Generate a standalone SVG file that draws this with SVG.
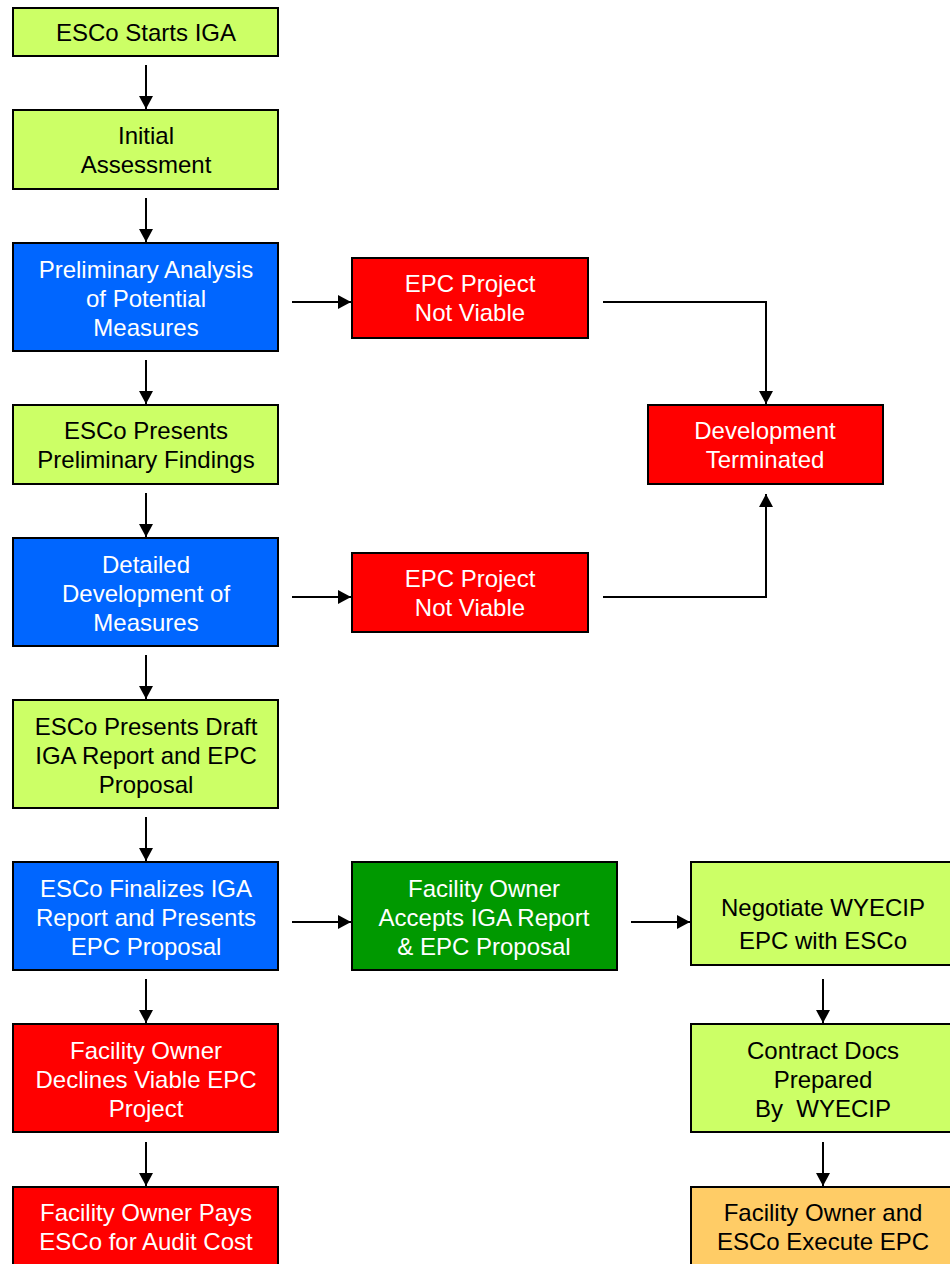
<svg xmlns="http://www.w3.org/2000/svg" width="950" height="1264" viewBox="0 0 950 1264">
<defs>
<style>
rect{stroke:#000;stroke-width:2}
.lg{fill:#CCFF66}
.bl{fill:#0066FF}
.rd{fill:#FF0000}
.gr{fill:#009900}
.or{fill:#FFCC66}
text{font-family:"Liberation Sans",Arial,sans-serif;font-size:24px;text-anchor:middle;white-space:pre}
.k{fill:#000}
.w{fill:#fff}
.c{fill:none;stroke:#000;stroke-width:2}
</style>
<marker id="ah" markerWidth="13" markerHeight="14" viewBox="0 0 13 14" refX="13" refY="7" orient="auto" markerUnits="userSpaceOnUse">
<path d="M0,0 L13,7 L0,14 Z" fill="#000"/>
</marker>
</defs>
<rect x="0" y="0" width="950" height="1264" fill="#fff" style="stroke:none"/>
<g id="connectors">
<line class="c" x1="146" y1="65" x2="146" y2="109" marker-end="url(#ah)"/>
<line class="c" x1="146" y1="198" x2="146" y2="242" marker-end="url(#ah)"/>
<line class="c" x1="146" y1="360" x2="146" y2="404" marker-end="url(#ah)"/>
<line class="c" x1="146" y1="493" x2="146" y2="537" marker-end="url(#ah)"/>
<line class="c" x1="146" y1="655" x2="146" y2="699" marker-end="url(#ah)"/>
<line class="c" x1="146" y1="817" x2="146" y2="861" marker-end="url(#ah)"/>
<line class="c" x1="146" y1="979" x2="146" y2="1023" marker-end="url(#ah)"/>
<line class="c" x1="146" y1="1142" x2="146" y2="1186" marker-end="url(#ah)"/>
<line class="c" x1="292" y1="302" x2="351" y2="302" marker-end="url(#ah)"/>
<line class="c" x1="292" y1="597" x2="351" y2="597" marker-end="url(#ah)"/>
<polyline class="c" points="603,302 766,302 766,404" marker-end="url(#ah)"/>
<polyline class="c" points="603,597 766,597 766,494" marker-end="url(#ah)"/>
<line class="c" x1="292" y1="922" x2="351" y2="922" marker-end="url(#ah)"/>
<line class="c" x1="631" y1="922" x2="690" y2="922" marker-end="url(#ah)"/>
<line class="c" x1="823" y1="979" x2="823" y2="1023" marker-end="url(#ah)"/>
<line class="c" x1="823" y1="1142" x2="823" y2="1186" marker-end="url(#ah)"/>
</g>
<g id="n1"><rect class="lg" x="13" y="8" width="265" height="48"/><text class="k" x="146" y="41">ESCo Starts IGA</text></g>
<g id="n2"><rect class="lg" x="13" y="110" width="265" height="79"/><text class="k" x="146" y="144">Initial</text><text class="k" x="146" y="173">Assessment</text></g>
<g id="n3"><rect class="bl" x="13" y="243" width="265" height="108"/><text class="w" x="146" y="278">Preliminary Analysis</text><text class="w" x="146" y="307">of Potential</text><text class="w" x="146" y="336">Measures</text></g>
<g id="n4"><rect class="lg" x="13" y="405" width="265" height="79"/><text class="k" x="146" y="439">ESCo Presents</text><text class="k" x="146" y="468">Preliminary Findings</text></g>
<g id="n5"><rect class="bl" x="13" y="538" width="265" height="108"/><text class="w" x="146" y="573">Detailed</text><text class="w" x="146" y="602">Development of</text><text class="w" x="146" y="631">Measures</text></g>
<g id="n6"><rect class="lg" x="13" y="700" width="265" height="108"/><text class="k" x="146" y="735">ESCo Presents Draft</text><text class="k" x="146" y="764">IGA Report and EPC</text><text class="k" x="146" y="793">Proposal</text></g>
<g id="n7"><rect class="bl" x="13" y="862" width="265" height="108"/><text class="w" x="146" y="897">ESCo Finalizes IGA</text><text class="w" x="146" y="926">Report and Presents</text><text class="w" x="146" y="955">EPC Proposal</text></g>
<g id="n8"><rect class="rd" x="13" y="1024" width="265" height="108"/><text class="w" x="146" y="1059">Facility Owner</text><text class="w" x="146" y="1088">Declines Viable EPC</text><text class="w" x="146" y="1117">Project</text></g>
<g id="n9"><rect class="rd" x="13" y="1187" width="265" height="79"/><text class="w" x="146" y="1221">Facility Owner Pays</text><text class="w" x="146" y="1250">ESCo for Audit Cost</text></g>
<g id="e1"><rect class="rd" x="352" y="258" width="236" height="80"/><text class="w" x="470" y="292">EPC Project</text><text class="w" x="470" y="321">Not Viable</text></g>
<g id="e2"><rect class="rd" x="352" y="553" width="236" height="79"/><text class="w" x="470" y="587">EPC Project</text><text class="w" x="470" y="616">Not Viable</text></g>
<g id="dt"><rect class="rd" x="648" y="405" width="235" height="79"/><text class="w" x="765" y="439">Development</text><text class="w" x="765" y="468">Terminated</text></g>
<g id="g1"><rect class="gr" x="352" y="862" width="265" height="108"/><text class="w" x="484" y="897">Facility Owner</text><text class="w" x="484" y="926">Accepts IGA Report</text><text class="w" x="484" y="955">&amp; EPC Proposal</text></g>
<g id="r1"><rect class="lg" x="691" y="862" width="266" height="103"/><text class="k" x="823" y="916">Negotiate WYECIP</text><text class="k" x="823" y="949">EPC with ESCo</text></g>
<g id="r2"><rect class="lg" x="691" y="1024" width="266" height="108"/><text class="k" x="823" y="1059">Contract Docs</text><text class="k" x="823" y="1088">Prepared</text><text class="k" x="823" y="1117">By  WYECIP</text></g>
<g id="r3"><rect class="or" x="691" y="1187" width="266" height="79"/><text class="k" x="823" y="1221">Facility Owner and</text><text class="k" x="823" y="1250">ESCo Execute EPC</text></g>
</svg>
